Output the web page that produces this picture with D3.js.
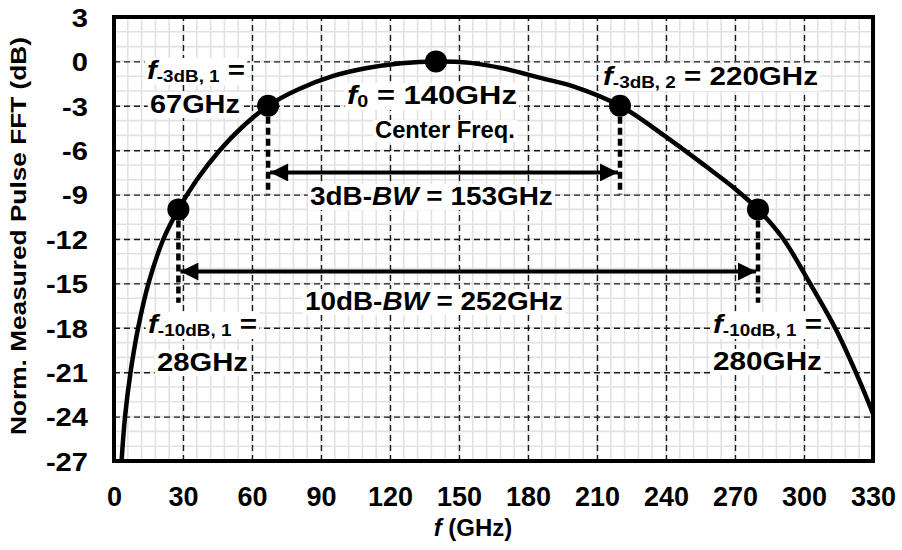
<!DOCTYPE html>
<html>
<head>
<meta charset="utf-8">
<script src="https://cdn.jsdelivr.net/npm/d3@7"></script>
<style>
  html, body { margin: 0; padding: 0; background: #fff; }
  svg { display: block; font-family: "Liberation Sans", Arial, Helvetica, sans-serif; font-weight: bold; }
</style>
</head>
<body>
<svg id="chart" width="902" height="550"></svg>
<script>
// Normalized pulse spectrum (GHz vs dB)
const freqGHz = [3.3, 4.8, 7.2, 10.5, 15, 21.5, 28, 36, 46, 56, 67, 80, 95, 110, 125, 140, 155, 170, 185, 200, 220, 240, 260, 270, 280, 291, 302.6, 313.5, 322.5, 330];
const magDB   = [-27, -24, -21, -18, -15, -12, -10, -8, -6, -4.4, -3, -1.9, -1.0, -0.45, -0.12, 0, -0.1, -0.5, -1.1, -1.7, -3, -5.1, -7.4, -8.6, -10, -12, -15, -18, -21, -23.8];

// Highlighted frequencies
const markerFreq = [28, 67, 140, 220, 280];
const markerDB   = [-10, -3, 0, -3, -10];

// Axis ticks
const xTickValues = [0, 30, 60, 90, 120, 150, 180, 210, 240, 270, 300, 330];
const yTickValues = [3, 0, -3, -6, -9, -12, -15, -18, -21, -24, -27];
const xMinorStep = 6;
const yMinorStep = 1;

// Bandwidth arrows: [start GHz, end GHz, level dB]
const bw3 = [67, 220, -7.5];
const bw10 = [28, 280, -14.2];
// Drop lines below markers: [GHz, from dB, to dB]
const dropLines = [[67, -3, -9], [220, -3, -9], [28, -10, -16.3], [280, -10, -16.3]];

const svg = d3.select("#chart");
const pL = 114, pR = 873, pT = 17, pB = 461;

const x = d3.scaleLinear().domain([0, 330]).range([pL, pR]);
const y = d3.scaleLinear().domain([-27, 3]).range([pB, pT]);

// minor grid
const g = svg.append("g");
g.selectAll(".vminor").data(d3.range(0, 330 + 0.01, xMinorStep)).join("line")
  .attr("x1", d => x(d)).attr("x2", d => x(d)).attr("y1", pT).attr("y2", pB)
  .attr("stroke", "#e2e2e2").attr("stroke-width", 1.6);
g.selectAll(".hminor").data(d3.range(-27, 3 + 0.01, yMinorStep)).join("line")
  .attr("y1", d => y(d)).attr("y2", d => y(d)).attr("x1", pL).attr("x2", pR)
  .attr("stroke", "#e2e2e2").attr("stroke-width", 1.6);

// major grid via axes
const gx = svg.append("g").attr("transform", `translate(0,${pB})`)
  .call(d3.axisBottom(x).tickValues(xTickValues).tickSize(-(pB - pT)));
const gy = svg.append("g").attr("transform", `translate(${pL},0)`)
  .call(d3.axisLeft(y).tickValues(yTickValues).tickSize(-(pR - pL)).tickFormat(d3.format("d")));
[gx, gy].forEach(a => {
  a.select(".domain").remove();
  a.selectAll(".tick line").attr("stroke", "#1a1a1a").attr("stroke-width", 1.4).attr("stroke-dasharray", "6,4");
  a.selectAll(".tick text").attr("fill", "#000").attr("font-family", null).attr("font-weight", "bold");
});
gx.selectAll(".tick text").attr("font-size", 27).attr("y", 506 - pB).attr("dy", 0);
gy.selectAll(".tick text")
  .text(d => d < 0 ? "-" + Math.abs(d) : d)
  .attr("font-size", 26).attr("x", 0).attr("dy", "0.36em").attr("text-anchor", "end")
  .attr("transform", `translate(${88 - pL},0) scale(1.12,1)`);

// labels layer (with white backing); each label is stretched to its set width
const labels = svg.append("g");

function label(xp, yp, width, parts, size) {
  const grp = labels.append("g");
  const t = grp.append("text").attr("x", xp).attr("y", yp).attr("font-size", size).attr("fill", "#000");
  parts.forEach(p => {
    const s = t.append("tspan").text(p.t);
    if (p.i) s.attr("font-style", "italic");
    if (p.sub) s.attr("font-size", size * 0.64).attr("baseline-shift", "-3");
  });
  const b = t.node().getBBox();
  const sx = width / b.width;
  grp.insert("rect", "text")
    .attr("x", b.x - 2).attr("y", b.y + 3).attr("width", b.width + 4).attr("height", b.height - 4)
    .attr("fill", "#fff");
  grp.attr("transform", `translate(${xp},0) scale(${sx},1) translate(${-b.x},0)`);
  return grp;
}

label(147, 79, 98, [{t: "f", i: 1}, {t: "-3dB, 1", sub: 1}, {t: " ="}], 26);
label(150, 113, 90, [{t: "67GHz"}], 26);
label(347, 104, 170, [{t: "f", i: 1}, {t: "0", sub: 1}, {t: " = 140GHz"}], 26);
label(375, 138, 140, [{t: "Center Freq."}], 23);
label(603, 85, 215, [{t: "f", i: 1}, {t: "-3dB, 2", sub: 1}, {t: " = 220GHz"}], 26);
label(310, 205, 243, [{t: "3dB-"}, {t: "BW", i: 1}, {t: " = 153GHz"}], 26);
label(305, 310, 258, [{t: "10dB-"}, {t: "BW", i: 1}, {t: " = 252GHz"}], 26);
label(148, 333, 109, [{t: "f", i: 1}, {t: "-10dB, 1", sub: 1}, {t: " ="}], 26);
label(157, 371, 91, [{t: "28GHz"}], 26);
label(713, 333, 109, [{t: "f", i: 1}, {t: "-10dB, 1", sub: 1}, {t: " ="}], 26);
label(713, 370, 109, [{t: "280GHz"}], 26);

// drop lines
svg.append("g").selectAll("line").data(dropLines).join("line")
  .attr("x1", d => x(d[0])).attr("x2", d => x(d[0]))
  .attr("y1", d => y(d[1])).attr("y2", d => y(d[2]))
  .attr("stroke", "#000").attr("stroke-width", 4.5).attr("stroke-dasharray", "7,4");

// arrow heads
const defs = svg.append("defs");
["start", "end"].forEach(k => {
  defs.append("marker").attr("id", "arr-" + k)
    .attr("viewBox", "0 0 10 10").attr("refX", k === "end" ? 10 : 0).attr("refY", 5)
    .attr("markerWidth", 5.5).attr("markerHeight", 4.5).attr("markerUnits", "strokeWidth")
    .attr("orient", "auto")
    .append("path")
    .attr("d", k === "end" ? "M0,0 L10,5 L0,10 Z" : "M10,0 L0,5 L10,10 Z")
    .attr("fill", "#000");
});
svg.append("g").selectAll("line").data([bw3, bw10]).join("line")
  .attr("x1", d => x(d[0]) + 2).attr("x2", d => x(d[1]) - 2)
  .attr("y1", d => y(d[2])).attr("y2", d => y(d[2]))
  .attr("stroke", "#000").attr("stroke-width", 4)
  .attr("marker-start", "url(#arr-start)").attr("marker-end", "url(#arr-end)");

// spectrum curve
defs.append("clipPath").attr("id", "plotclip")
  .append("rect").attr("x", pL).attr("y", pT).attr("width", pR - pL).attr("height", pB - pT);
const line = d3.line().x(d => x(d[0])).y(d => y(d[1])).curve(d3.curveCatmullRom.alpha(0.5));
svg.append("path").datum(freqGHz.map((f, i) => [f, magDB[i]]))
  .attr("d", line).attr("fill", "none").attr("stroke", "#000").attr("stroke-width", 4.5)
  .attr("clip-path", "url(#plotclip)");

// markers
svg.append("g").selectAll("circle").data(markerFreq).join("circle")
  .attr("cx", d => x(d)).attr("cy", (d, i) => y(markerDB[i])).attr("r", 11).attr("fill", "#000");

// plot frame
svg.append("rect").attr("x", pL).attr("y", pT).attr("width", pR - pL).attr("height", pB - pT)
  .attr("fill", "none").attr("stroke", "#000").attr("stroke-width", 4);

// axis titles
const xt = svg.append("text").attr("x", 473).attr("y", 536).attr("text-anchor", "middle").attr("font-size", 24);
xt.append("tspan").attr("font-style", "italic").text("f");
xt.append("tspan").text(" (GHz)");
const yt = svg.append("text").attr("text-anchor", "middle").attr("font-size", 22)
  .text("Norm. Measured Pulse FFT (dB)");
const ytw = yt.node().getBBox().width;
yt.attr("transform", `translate(26,236) rotate(-90) scale(${398 / ytw},1)`);
</script>
</body>
</html>
